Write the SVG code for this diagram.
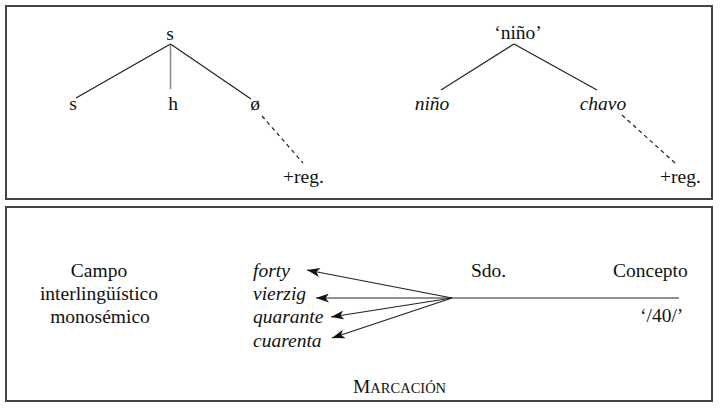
<svg xmlns="http://www.w3.org/2000/svg" width="720" height="408" viewBox="0 0 720 408">
<defs>
<style>
text{font-family:'Liberation Serif','Times New Roman','DejaVu Serif',serif;font-size:19.5px;fill:#111}
.i{font-style:italic}
.m{text-anchor:middle}
.ln{stroke:#222;stroke-width:1.2;fill:none}
.lg{stroke:#888;stroke-width:1.5;fill:none}
.ds{stroke:#222;stroke-width:1.2;stroke-dasharray:4 3.5;fill:none}
.box{fill:#fff;stroke:#444;stroke-width:2}
</style>
<marker id="ah" markerUnits="userSpaceOnUse" viewBox="0 0 13 9" refX="13" refY="4.5" markerWidth="13" markerHeight="9" orient="auto">
<path d="M0,0 L13,4.5 L0,9 L3.5,4.5 Z" fill="#111"/>
</marker>
</defs>
<rect width="720" height="408" fill="#fff"/>
<rect class="box" x="6" y="6" width="706" height="193"/>
<rect class="box" x="6" y="207" width="706" height="194"/>
<g id="connectors">
<path class="ln" d="M170.5,44 L76,98"/>
<path class="lg" d="M170.5,44 L170.5,89"/>
<path class="ln" d="M170.5,44 L251,99"/>
<path class="ds" d="M262,116 L303,163"/>
<path class="ln" d="M514,44 L441,90"/>
<path class="ln" d="M514,44 L597,90"/>
<path class="ds" d="M622,115 L675,163"/>
<path class="ln" d="M452,298 L307,270" marker-end="url(#ah)"/>
<path class="ln" d="M452,298 L316,298" marker-end="url(#ah)"/>
<path class="ln" d="M452,298 L331,317" marker-end="url(#ah)"/>
<path class="ln" d="M452,298 L332,338" marker-end="url(#ah)"/>
<path class="ln" d="M452,298 L679,298"/>
</g>
<g id="s-root"><text class="m" x="170" y="40">s</text></g>
<g id="s-leaf"><text class="m" x="73" y="110">s</text></g>
<g id="h-leaf"><text class="m" x="173" y="110">h</text></g>
<g id="zero-leaf"><text class="m" x="255" y="110">ø</text></g>
<g id="reg1"><text x="283" y="183">+reg.</text></g>
<g id="nino-root"><text class="m" x="518" y="39">‘niño’</text></g>
<g id="nino-leaf"><text class="i m" x="432" y="110">niño</text></g>
<g id="chavo-leaf"><text class="i m" x="603" y="110">chavo</text></g>
<g id="reg2"><text x="660" y="183">+reg.</text></g>
<g id="campo"><text class="m" x="99" y="277">Campo</text><text class="m" x="99" y="300">interlingüístico</text><text class="m" x="100" y="323">monosémico</text></g>
<g id="forty"><text class="i" x="253" y="277">forty</text></g>
<g id="vierzig"><text class="i" x="253" y="300">vierzig</text></g>
<g id="quarante"><text class="i" x="253" y="323">quarante</text></g>
<g id="cuarenta"><text class="i" x="253" y="347">cuarenta</text></g>
<g id="sdo"><text x="471" y="277">Sdo.</text></g>
<g id="concepto"><text x="613" y="277">Concepto</text></g>
<g id="forty-num"><text x="640" y="322">‘/40/’</text></g>
<g id="marcacion"><text x="353" y="393">M<tspan font-size="14.5">ARCACIÓN</tspan></text></g>
</svg>
